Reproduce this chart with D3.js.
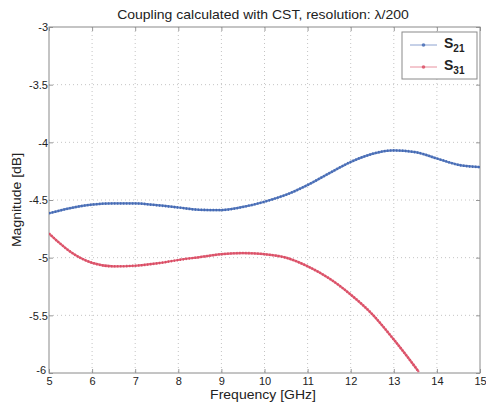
<!DOCTYPE html>
<html>
<head>
<meta charset="utf-8">
<script src="https://cdn.jsdelivr.net/npm/d3@7"></script>
<style>
  html, body { margin: 0; padding: 0; background: #fff; }
  svg { display: block; }
  text { font-family: "Liberation Sans", Arial, Helvetica, sans-serif; fill: #222; }
</style>
</head>
<body>
<svg id="chart" width="486" height="407"></svg>
<script>
// Frequency sweep (GHz) and coupling magnitudes (dB)
const freqS21 = [5, 5.5, 6, 6.5, 7, 7.5, 8, 8.5, 9, 9.5, 10, 10.5, 11, 11.5, 12, 12.5, 13, 13.5, 14, 14.5, 15];
const s21 = [-4.615, -4.57, -4.54, -4.53, -4.53, -4.545, -4.565, -4.585, -4.587, -4.56, -4.515, -4.455, -4.37, -4.268, -4.17, -4.10, -4.07, -4.085, -4.14, -4.195, -4.215];

const freqS31 = [5, 5.25, 5.5, 6, 6.5, 7, 7.5, 8, 8.5, 9, 9.5, 10, 10.5, 11, 11.5, 12, 12.5, 13, 13.5, 13.58];
const s31 = [-4.79, -4.875, -4.95, -5.045, -5.075, -5.07, -5.05, -5.02, -4.995, -4.97, -4.96, -4.97, -5.0, -5.075, -5.18, -5.32, -5.49, -5.71, -5.95, -5.99];

const xTicks = [5, 6, 7, 8, 9, 10, 11, 12, 13, 14, 15];
const yTicks = [-3, -3.5, -4, -4.5, -5, -5.5, -6];

const titleText = "Coupling calculated with CST, resolution: \u03bb/200";
const xLabel = "Frequency [GHz]";
const yLabel = "Magnitude [dB]";

const seriesNames = [{ base: "S", sub: "21" }, { base: "S", sub: "31" }];
const colors = ["#3f66b3", "#d9475f"];

// Layout
const L = 49, R = 480, T = 27, B = 373;
const STRETCH = 1.12;

const svg = d3.select("#chart");
const x = d3.scaleLinear().domain([5, 15]).range([L, R]);
const y = d3.scaleLinear().domain([-6, -3]).range([B, T]);

// Dotted grid
const grid = svg.append("g").attr("stroke", "#c4c4c4").attr("stroke-width", 1)
  .attr("stroke-dasharray", "1,3");
grid.selectAll("line.v").data(xTicks.slice(1, -1)).join("line")
  .attr("x1", d => x(d)).attr("x2", d => x(d)).attr("y1", T).attr("y2", B);
grid.selectAll("line.h").data(yTicks.slice(1, -1)).join("line")
  .attr("x1", L).attr("x2", R).attr("y1", d => y(d)).attr("y2", d => y(d));

// Axes with inward ticks
const ax = svg.append("g").attr("transform", `translate(0,${B})`)
  .call(d3.axisBottom(x).tickValues(xTicks).tickSizeInner(-4).tickSizeOuter(0).tickPadding(4).tickFormat(d => d));
const ay = svg.append("g").attr("transform", `translate(${L},0)`)
  .call(d3.axisLeft(y).tickValues(yTicks).tickSizeInner(-4).tickSizeOuter(0).tickPadding(1).tickFormat(d => d));
const axR = svg.append("g").attr("transform", `translate(${R},0)`)
  .call(d3.axisRight(y).tickValues(yTicks).tickSizeInner(-4).tickSizeOuter(0).tickFormat(""));
const axT = svg.append("g").attr("transform", `translate(0,${T})`)
  .call(d3.axisTop(x).tickValues(xTicks).tickSizeInner(-4).tickSizeOuter(0).tickFormat(""));
[ax, ay, axR, axT].forEach(g => {
  g.select(".domain").remove();
  g.selectAll(".tick line").attr("stroke", "#999");
  g.selectAll(".tick text").attr("font-family", "Liberation Sans, Arial, sans-serif")
    .attr("font-size", 11).attr("fill", "#333");
});
// y labels centred on ticks; the bottom one sits a little higher to clear the x labels
ay.selectAll(".tick text").attr("dy", d => d === -6 ? "0.05em" : "0.35em")
  .attr("x", d => d === -6 ? -3 : -1);

// Axes box
svg.append("rect").attr("x", L).attr("y", T).attr("width", R - L).attr("height", B - T)
  .attr("fill", "none").attr("stroke", "#8a8a8a").attr("stroke-width", 1);

// Curves
const line = d3.line().x(d => x(d[0])).y(d => y(d[1])).curve(d3.curveMonotoneX);
const dataS21 = freqS21.map((f, i) => [f, s21[i]]);
const dataS31 = freqS31.map((f, i) => [f, s31[i]]);
svg.append("clipPath").attr("id", "plotclip").append("rect")
  .attr("x", L).attr("y", T).attr("width", R - L).attr("height", B - T);
const curves = svg.append("g").attr("clip-path", "url(#plotclip)");
[dataS21, dataS31].forEach((data, i) => {
  curves.append("path").datum(data).attr("d", line)
    .attr("fill", "none").attr("stroke", colors[i]).attr("stroke-width", 2.2)
    .attr("stroke-opacity", 0.85);
  curves.append("path").datum(data).attr("d", line)
    .attr("fill", "none").attr("stroke", colors[i]).attr("stroke-width", 2.6)
    .attr("stroke-dasharray", "1.2,1.8").attr("stroke-opacity", 0.9);
});

// Horizontally stretched text helper
function stretchedText(px, py, str, size, anchor, rotate) {
  const g = svg.append("g")
    .attr("transform", `translate(${px},${py})` + (rotate ? ` rotate(${rotate})` : "") + ` scale(${STRETCH},1)`);
  return g.append("text").attr("text-anchor", anchor).attr("font-size", size).text(str);
}

stretchedText(263, 19, titleText, 12.5, "middle");
stretchedText(263, 399, xLabel, 12.5, "middle");
stretchedText(21, 200, yLabel, 12.5, "middle", -90);

// Legend
const lg = svg.append("g");
lg.append("rect").attr("x", 402).attr("y", 32).attr("width", 75).attr("height", 47)
  .attr("fill", "#fff").attr("stroke", "#8a8a8a").attr("stroke-width", 1);
seriesNames.forEach((s, i) => {
  const ly = 45 + i * 22;
  lg.append("line").attr("x1", 410).attr("x2", 437).attr("y1", ly).attr("y2", ly)
    .attr("stroke", colors[i]).attr("stroke-width", 1).attr("stroke-opacity", 0.6);
  lg.append("circle").attr("cx", 423.5).attr("cy", ly).attr("r", 1.8).attr("fill", colors[i]).attr("opacity", 0.8);
  const t = lg.append("text").attr("x", 444).attr("y", ly + 3)
    .attr("font-size", 14).attr("font-weight", "bold").attr("fill", "#222");
  t.append("tspan").text(s.base);
  t.append("tspan").attr("font-size", 10).attr("dy", 4).text(s.sub);
});
</script>
</body>
</html>
